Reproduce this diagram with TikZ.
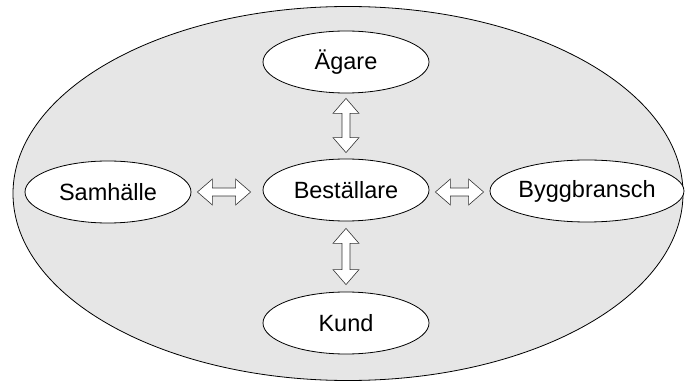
\documentclass[tikz,border=0pt]{standalone}
\usepackage{fontspec}
\setmainfont{Liberation Sans}
\usetikzlibrary{shapes.geometric,calc}
\definecolor{bggray}{RGB}{230,230,230}
\begin{document}
\begin{tikzpicture}[x=1pt, y=-1pt,
    party/.style={ellipse, draw, line width=0.8pt, fill=white, inner sep=0pt,
      minimum width=166, minimum height=62, font=\fontsize{23.5}{26}\selectfont},
    harrow/.style={to path={let \p1=(\tikztostart), \p2=(\tikztotarget) in
      (\x1,\y1) -- (\x1+15pt,\y1+13pt) -- (\x1+15pt,\y1+4pt) -- (\x2-15pt,\y1+4pt)
      -- (\x2-15pt,\y1+13pt) -- (\x2,\y1) -- (\x2-15pt,\y1-13pt) -- (\x2-15pt,\y1-4pt)
      -- (\x1+15pt,\y1-4pt) -- (\x1+15pt,\y1-13pt) -- cycle}},
    varrow/.style={to path={let \p1=(\tikztostart), \p2=(\tikztotarget) in
      (\x1,\y1) -- (\x1+13pt,\y1-15pt) -- (\x1+4pt,\y1-15pt) -- (\x1+4pt,\y2+15pt)
      -- (\x1+13pt,\y2+15pt) -- (\x1,\y2) -- (\x1-13pt,\y2+15pt) -- (\x1-4pt,\y2+15pt)
      -- (\x1-4pt,\y1-15pt) -- (\x1-13pt,\y1-15pt) -- cycle}},
    link/.style={draw=black!80, line width=0.6pt, fill=white}]
  \useasboundingbox (0,0) rectangle (685,387);

  % Outer field
  \draw[line width=0.8pt, fill=bggray] (348,193.5) ellipse [x radius=335, y radius=187];

  % Parties
  \node[party] (agare) at (346,62) {Ägare};
  \node[party] (best) at (346,190) {Beställare};
  \node[party] (kund) at (346,323) {Kund};
  \node[party] (sam) at (108,192) {Samhälle};
  \node[party, minimum width=186] (bygg) at (587,191) {Byggbransch};

  % Arrows
  \draw[link] ($(agare.south)+(0,5)$) to[varrow] ($(best.north)-(0,6)$);
  \draw[link] ($(best.south)+(0,7)$) to[varrow] ($(kund.north)-(0,7)$);
  \draw[link] ($(sam.east)+(6,0)$) to[harrow] ($(best.west)-(12,0)$);
  \draw[link] ($(best.east)+(6,2)$) to[harrow] ($(bygg.west)-(6,0)$);
\end{tikzpicture}
\end{document}
